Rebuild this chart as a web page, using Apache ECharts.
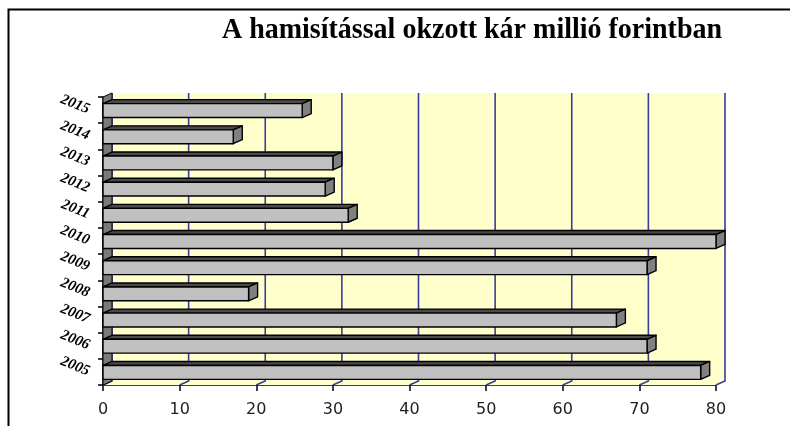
<!DOCTYPE html>
<html>
<head>
<meta charset="utf-8">
<script src="https://cdn.jsdelivr.net/npm/echarts@6/dist/echarts.min.js"></script>
<style>
  html, body { margin: 0; padding: 0; background: #fff; }
  #chart { width: 790px; height: 426px; }
</style>
</head>
<body>
<div id="chart"></div>
<script>
// data
const years = ['2005', '2006', '2007', '2008', '2009', '2010', '2011', '2012', '2013', '2014', '2015'];
const damage = [78, 71, 67, 19, 71, 80, 32, 29, 30, 17, 26];
const xMin = 0, xMax = 80, xStep = 10;

// 3D depth offset of the plot (pixels)
const DX = 9, DY = -4;

const chart = echarts.init(document.getElementById('chart'));

function renderWalls(params, api) {
    const cs = params.coordSys;
    const x = cs.x, y = cs.y, w = cs.width, h = cs.height;
    const kids = [];
    // back wall
    kids.push({ type: 'rect', shape: { x: x + DX, y: y + DY, width: w, height: h },
        style: { fill: '#ffffcc', stroke: null } });
    // floor
    kids.push({ type: 'polygon', shape: { points: [[x, y + h], [x + w, y + h], [x + w + DX, y + h + DY], [x + DX, y + h + DY]] },
        style: { fill: '#ffffcc', stroke: null } });
    // grid lines on wall + floor
    for (let v = xMin; v <= xMax; v += xStep) {
        const px = api.coord([v, 0])[0];
        kids.push({ type: 'polyline', shape: { points: [[px + DX, y + DY], [px + DX, y + h + DY], [px, y + h]] },
            style: { stroke: '#3b3ba0', lineWidth: 1.6, fill: null } });
    }
    // left side wall
    kids.push({ type: 'polygon', shape: { points: [[x, y], [x + DX, y + DY], [x + DX, y + h + DY], [x, y + h]] },
        style: { fill: '#7a7a7a', stroke: '#000', lineWidth: 1 } });
    return { type: 'group', children: kids };
}

function renderBar(params, api) {
    const yi = api.value(1);
    const end = api.coord([api.value(0), yi]);
    const start = api.coord([0, yi]);
    const bh = api.size([0, 1])[1] * 0.53;
    const x0 = start[0], x1 = end[0];
    const yt = end[1] - bh / 2 + 0.5, yb = end[1] + bh / 2 + 0.5;
    const edge = { stroke: '#000', lineWidth: 1.4, lineJoin: 'round' };
    return {
        type: 'group',
        children: [
            { type: 'polygon', shape: { points: [[x0, yt], [x1, yt], [x1 + DX, yt + DY], [x0 + DX, yt + DY]] },
              style: Object.assign({ fill: '#4a4a4a' }, edge) },
            { type: 'polygon', shape: { points: [[x1, yt], [x1 + DX, yt + DY], [x1 + DX, yb + DY], [x1, yb]] },
              style: Object.assign({ fill: '#808080' }, edge) },
            { type: 'rect', shape: { x: x0, y: yt, width: x1 - x0, height: yb - yt },
              style: Object.assign({ fill: '#c0c0c0' }, edge) }
        ]
    };
}

const option = {
    animation: false,
    backgroundColor: '#fff',
    grid: { left: 103, top: 97, width: 613, height: 288, containLabel: false },
    graphic: [
        { type: 'rect', z: 100, shape: { x: 8.5, y: 9.5, width: 900, height: 600 },
          style: { fill: null, stroke: '#000', lineWidth: 2 } },
        { type: 'text', z: 100, x: 472, y: 30, scaleY: 1.05,
          style: { text: 'A hamisítással okzott kár millió forintban', fill: '#000',
                   font: 'bold 28px "Liberation Serif", serif', align: 'center', verticalAlign: 'middle' } }
    ],
    xAxis: {
        type: 'value', min: xMin, max: xMax, interval: xStep,
        axisLine: { show: true, lineStyle: { color: '#000', width: 1.5 } },
        axisTick: { show: true, length: 6, lineStyle: { color: '#000', width: 1.5 } },
        splitLine: { show: false },
        axisLabel: { color: '#222', fontSize: 16, fontFamily: 'DejaVu Sans', margin: 17 }
    },
    yAxis: {
        type: 'category', data: years,
        axisLine: { show: true, lineStyle: { color: '#000', width: 1.5 } },
        axisTick: { show: true, length: 5, lineStyle: { color: '#000', width: 1.5 } },
        axisLabel: { color: '#000', fontSize: 15, fontWeight: 'bold', fontStyle: 'italic',
                     fontFamily: 'Liberation Serif', rotate: -22, margin: 14 }
    },
    series: [
        { type: 'custom', renderItem: renderWalls, data: [[0, 0]], clip: false, z: 1, silent: true },
        { type: 'custom', renderItem: renderBar, clip: false, z: 2,
          encode: { x: 0, y: 1 },
          data: damage.map((v, i) => [v, i]) }
    ]
};

chart.setOption(option);
</script>
</body>
</html>
